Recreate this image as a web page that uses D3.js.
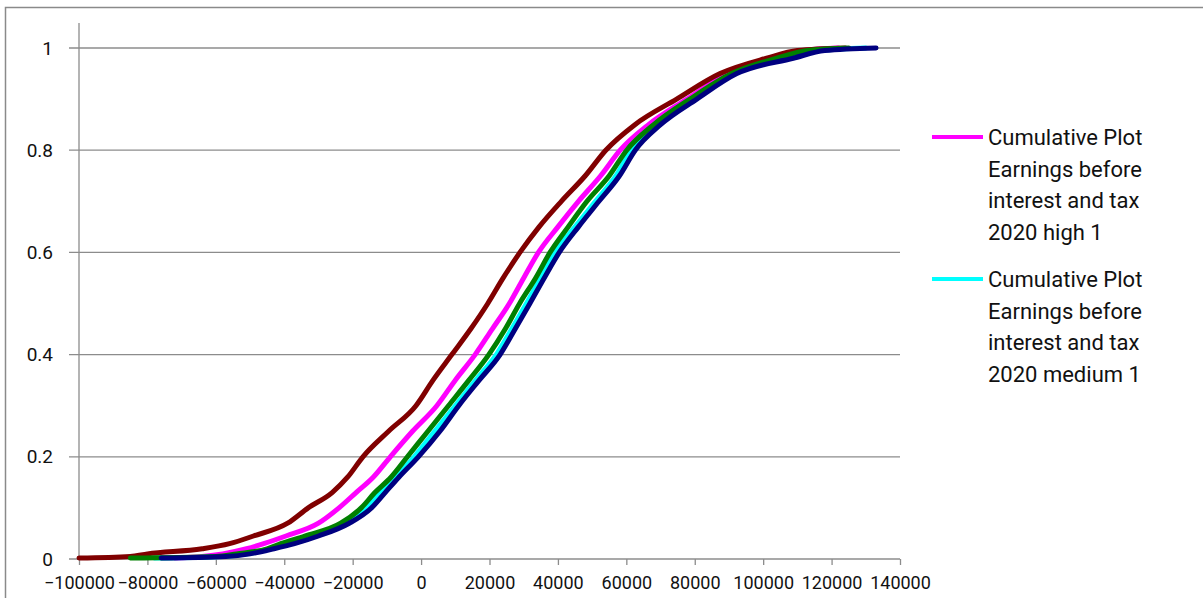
<!DOCTYPE html>
<html>
<head>
<meta charset="utf-8">
<style>
  body { margin: 0; background: #fff; }
  text { font-family: Roboto, "Open Sans", sans-serif; fill: #111; }
</style>
</head>
<body>
<svg id="chart" width="1203" height="598"></svg>

<script src="https://d3js.org/d3.v7.min.js"></script>
<script>
// cumulative probability levels shared by every curve
var cumProb = [0.002, 0.005, 0.01, 0.02, 0.03, 0.045, 0.07, 0.1, 0.13, 0.16, 0.2, 0.25, 0.3, 0.35, 0.4,
               0.45, 0.5, 0.55, 0.6, 0.65, 0.7, 0.75, 0.8, 0.85, 0.9, 0.95, 0.98, 0.995, 1.0];

// earnings (in thousands) reached at each cumulative level
var maroonK  = [-100, -85, -80, -64, -56, -49, -39, -33, -26, -21.5, -17, -9.5, -1.5, 3.5, 9,
                14.5, 19.5, 24, 28.9, 34.5, 41, 48, 54, 62.5, 74.7, 87.4, 101, 110, 124];
var magentaK = [-72, -64, -58, -51, -46, -39.5, -30, -24, -19, -14, -9, -2.5, 4.6, 10, 15.8,
                20.8, 25.8, 30, 34.3, 40, 46, 52.5, 58.2, 66.5, 77.7, 89.4, 102, 112, 122];
var cyanK    = [-78, -58, -51, -44, -38.5, -31.5, -22, -16, -12, -7.5, -2, 4, 10, 16, 22,
                26.5, 30.8, 35, 39.2, 45, 51, 57, 61.5, 69, 79.8, 91.5, 106, 116, 130];
var greenK   = [-85, -60, -54, -45, -41, -34, -23.5, -17.5, -13.5, -8.8, -4, 2, 8, 14, 19.8,
                24.6, 28.8, 33.5, 37.7, 43, 48.5, 55, 60.1, 68, 78.6, 90.8, 104, 113, 125];
var navyK    = [-76, -57, -50, -43, -37, -30, -21, -14.5, -10.5, -6.5, -0.8, 5.5, 11, 17, 23.1,
                27.5, 31.8, 36, 40.4, 46, 52, 58, 62.6, 70, 80.6, 92.3, 108.8, 118, 133];

var xTicks = [-100000, -80000, -60000, -40000, -20000, 0, 20000, 40000, 60000, 80000, 100000, 120000, 140000];
var yTicks = [0, 0.2, 0.4, 0.6, 0.8, 1];

var legendNames = [
  ["Cumulative Plot", "Earnings before", "interest and tax", "2020 high 1"],
  ["Cumulative Plot", "Earnings before", "interest and tax", "2020 medium 1"]
];

// drawing order: last one ends up on top
var series = [
  {name: "high",   color: "#ff00ff", vals: magentaK},
  {name: "medium", color: "#00ffff", vals: cyanK},
  {name: "maroon", color: "#800000", vals: maroonK},
  {name: "green",  color: "#008000", vals: greenK},
  {name: "navy",   color: "#000080", vals: navyK}
];

var svg = d3.select("#chart");

var x = d3.scaleLinear().domain([-100000, 140000]).range([79, 900]);
var y = d3.scaleLinear().domain([0, 1]).range([559, 48]);
var yTop = 1.049;

// outer chart border
svg.append("rect")
  .attr("x", 5.5).attr("y", 7.5)
  .attr("width", 1210).attr("height", 610)
  .attr("fill", "none")
  .attr("stroke", "#8a8a8a")
  .attr("stroke-width", 1.5);

// gridlines
svg.append("g")
  .selectAll("line")
  .data(yTicks)
  .join("line")
  .attr("x1", x.range()[0] - 10).attr("x2", x.range()[1])
  .attr("y1", d => y(d)).attr("y2", d => y(d))
  .attr("stroke", "#8c8c8c")
  .attr("stroke-width", 1.3);

// y axis
var yAxis = d3.axisLeft(y).tickValues(yTicks).tickSize(0).tickPadding(26)
  .tickFormat(d => d3.format("")(d));
svg.append("g")
  .attr("transform", "translate(" + x.range()[0] + ",0)")
  .call(yAxis)
  .call(g => g.select(".domain").remove())
  .call(g => g.selectAll("text").style("font-size", "19px").attr("fill", "#111"));

svg.append("line")
  .attr("x1", x.range()[0]).attr("x2", x.range()[0])
  .attr("y1", y(yTop)).attr("y2", y(0))
  .attr("stroke", "#8c8c8c")
  .attr("stroke-width", 1.3);

// x axis
var xAxis = d3.axisBottom(x).tickValues(xTicks).tickSize(6).tickPadding(11)
  .tickFormat(d => d3.format("")(d));
svg.append("g")
  .attr("transform", "translate(0," + y(0) + ")")
  .call(xAxis)
  .call(g => g.select(".domain").remove())
  .call(g => g.selectAll("line").attr("stroke", "#8c8c8c").attr("stroke-width", 1.3))
  .call(g => g.selectAll("text").style("font-size", "18px").attr("fill", "#111"));

// curves
var line = d3.line()
  .curve(d3.curveMonotoneX)
  .x(d => x(d[0] * 1000))
  .y(d => y(d[1]));

svg.append("g")
  .selectAll("path")
  .data(series)
  .join("path")
  .attr("d", s => line(s.vals.map((v, i) => [v, cumProb[i]])))
  .attr("fill", "none")
  .attr("stroke", s => s.color)
  .attr("stroke-width", 5)
  .attr("stroke-linejoin", "round")
  .attr("stroke-linecap", "round");

// legend (only two entries fit)
var legend = svg.append("g");
legendNames.forEach(function(lines, i) {
  var top = 137 + i * 142;
  legend.append("line")
    .attr("x1", 932).attr("x2", 983)
    .attr("y1", top).attr("y2", top)
    .attr("stroke", series[i].color)
    .attr("stroke-width", 4);
  var t = legend.append("text")
    .attr("x", 988).attr("y", top)
    .attr("dominant-baseline", "central")
    .style("font-size", "22px");
  lines.forEach(function(l, j) {
    t.append("tspan").attr("x", 988).attr("y", top + j * 31.5).text(l);
  });
});
</script>
</body>
</html>
